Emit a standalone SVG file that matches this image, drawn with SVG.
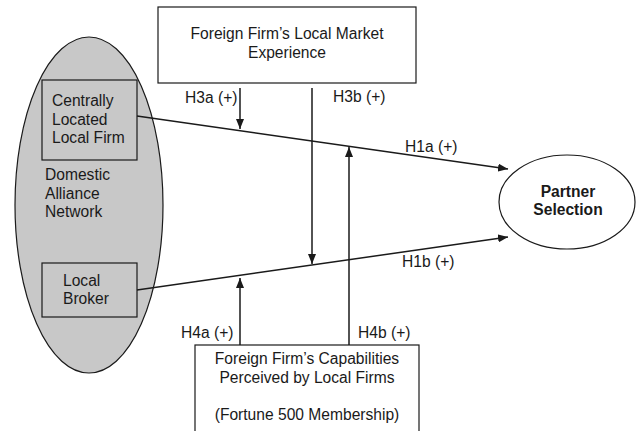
<svg xmlns="http://www.w3.org/2000/svg" width="636" height="431" viewBox="0 0 636 431">
<defs>
<marker id="ah" markerWidth="10" markerHeight="8" refX="10" refY="4" orient="auto" markerUnits="userSpaceOnUse">
<path d="M0,0 L10,4 L0,8 Z" fill="#1a1a1a"/>
</marker>
<style>
.t{font-family:"Liberation Sans",Arial,sans-serif;font-size:15.6px;fill:#1a1a1a}
.b{font-weight:bold}
.box{fill:#fff;stroke:#1a1a1a;stroke-width:1.2}
.gbox{fill:#c8c8c8;stroke:#1a1a1a;stroke-width:1.2}
.ln{stroke:#1a1a1a;stroke-width:1.5;fill:none}
</style>
</defs>
<rect width="636" height="431" fill="#fff"/>
<g id="network">
<ellipse cx="89" cy="205" rx="74" ry="168" class="gbox"/>
<text class="t" x="45" y="180">Domestic</text>
<text class="t" x="45" y="199">Alliance</text>
<text class="t" x="45" y="217">Network</text>
</g>
<g id="central">
<rect x="42" y="80" width="95" height="80" class="gbox"/>
<text class="t" x="52" y="106">Centrally</text>
<text class="t" x="52" y="124.5">Located</text>
<text class="t" x="52" y="143">Local Firm</text>
</g>
<g id="broker">
<rect x="42" y="263" width="95" height="54" class="gbox"/>
<text class="t" x="63" y="286">Local</text>
<text class="t" x="63" y="304">Broker</text>
</g>
<g id="experience">
<rect x="158" y="7" width="258" height="76" class="box"/>
<text class="t" x="287" y="39" text-anchor="middle">Foreign Firm’s Local Market</text>
<text class="t" x="287" y="58" text-anchor="middle">Experience</text>
</g>
<g id="capabilities">
<rect x="195" y="345" width="224" height="100" class="box"/>
<text class="t" x="307" y="364" text-anchor="middle">Foreign Firm’s Capabilities</text>
<text class="t" x="307" y="383" text-anchor="middle">Perceived by Local Firms</text>
<text class="t" x="307" y="420" text-anchor="middle">(Fortune 500 Membership)</text>
</g>
<g id="partner">
<ellipse cx="567" cy="202" rx="68" ry="47" class="box"/>
<text class="t b" x="568" y="197" text-anchor="middle">Partner</text>
<text class="t b" x="568" y="215" text-anchor="middle">Selection</text>
</g>
<g id="connectors">
<line x1="137" y1="116" x2="508" y2="169" class="ln" marker-end="url(#ah)"/>
<line x1="137" y1="290" x2="508" y2="237" class="ln" marker-end="url(#ah)"/>
<line x1="240" y1="88" x2="240" y2="129" class="ln" marker-end="url(#ah)"/>
<line x1="312" y1="88" x2="312" y2="264" class="ln" marker-end="url(#ah)"/>
<line x1="240" y1="345" x2="240" y2="278" class="ln" marker-end="url(#ah)"/>
<line x1="349" y1="345" x2="349" y2="147" class="ln" marker-end="url(#ah)"/>
<text class="t" x="185" y="103">H3a (+)</text>
<text class="t" x="333" y="102">H3b (+)</text>
<text class="t" x="405" y="152">H1a (+)</text>
<text class="t" x="402" y="267">H1b (+)</text>
<text class="t" x="181" y="338">H4a (+)</text>
<text class="t" x="358" y="338">H4b (+)</text>
</g>
</svg>
